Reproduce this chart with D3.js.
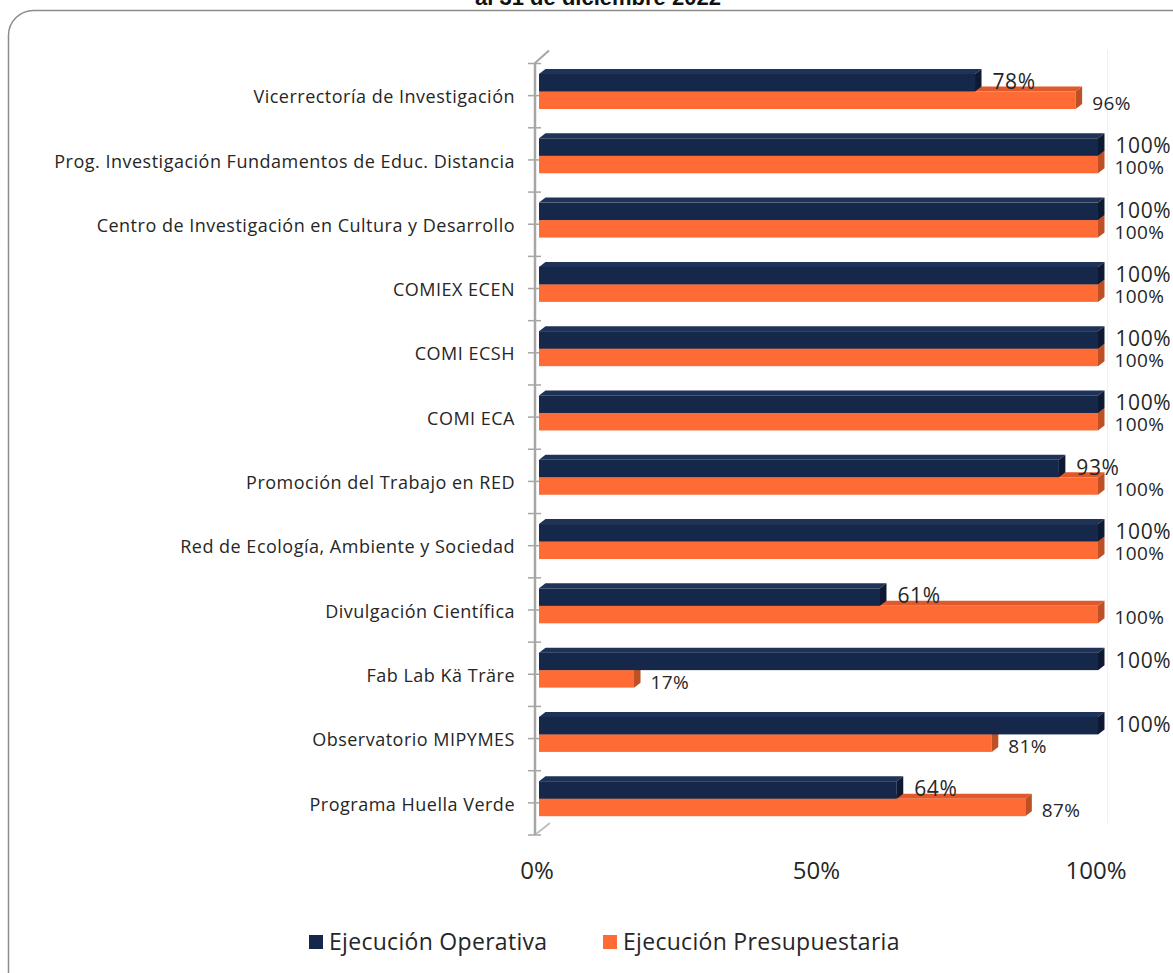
<!DOCTYPE html>
<html>
<head>
<meta charset="utf-8">
<script src="https://cdn.jsdelivr.net/npm/d3@7"></script>
<style>
  body { margin: 0; background: #fff; }
  svg { display: block; }
  .cat-label { font-family: 'Open Sans', sans-serif; font-size: 18px; letter-spacing: 0.5px; fill: #262626; }
  .tick-label { font-family: 'Open Sans', sans-serif; font-size: 24px; fill: #262626; }
  .val-op { font-family: 'Open Sans', sans-serif; font-size: 21px; letter-spacing: 0.6px; fill: #262626; }
  .val-pre { font-family: 'Open Sans', sans-serif; font-size: 19px; letter-spacing: 0.4px; fill: #262626; }
  .legend-label { font-family: 'Open Sans', sans-serif; font-size: 23px; letter-spacing: 0.3px; fill: #262626; }
</style>
</head>
<body>
<svg id="chart" width="1173" height="973"></svg>
<script>
// ================= data =========
var categories = [
  'Vicerrectoría de Investigación',
  'Prog. Investigación Fundamentos de Educ. Distancia',
  'Centro de Investigación en Cultura y Desarrollo',
  'COMIEX ECEN',
  'COMI ECSH',
  'COMI ECA',
  'Promoción del Trabajo en RED',
  'Red de Ecología, Ambiente y Sociedad',
  'Divulgación Científica',
  'Fab Lab Kä Träre',
  'Observatorio MIPYMES',
  'Programa Huella Verde'
]
var operativa = [78, 100, 100, 100, 100, 100, 93, 100, 61, 100, 100, 64]
var presupuestaria = [96, 100, 100, 100, 100, 100, 100, 100, 100, 17, 81, 87]
var seriesNames = ['Ejecución Operativa', 'Ejecución Presupuestaria']
var tickValues = [0, 50, 100]

var navy = { front: '#16284a', top: '#1f3257', side: '#0e1a33' }
var orange = { front: '#ff6b35', top: '#e0592a', side: '#bf4f25' }

var svg = d3.select('#chart')

// ======== frame and title ========
svg.append('rect')
  .attr('x', 8.5).attr('y', 10.5)
  .attr('width', 1190).attr('height', 990)
  .attr('rx', 25).attr('ry', 25)
  .attr('fill', 'none')
  .attr('stroke', '#8c8c8c')
  .attr('stroke-width', 1.5)

// title is cut by the top edge, like the original
svg.append('text')
  .attr('x', 598).attr('y', 5)
  .attr('text-anchor', 'middle')
  .style('font-family', 'Liberation Sans, Arial, sans-serif')
  .style('font-size', '22px')
  .style('font-weight', 'bold')
  .style('fill', '#111')
  .text('al 31 de diciembre 2022')

// ======== scales ========
var x = d3.scaleLinear().domain([0, 100]).range([539, 1098])
var y = d3.scaleBand().domain(categories).range([63.5, 835])
var depthX = 6.5
var depthY = 5

// faint back line at 100%
svg.append('line')
  .attr('x1', x(100) + depthX + 3).attr('x2', x(100) + depthX + 3)
  .attr('y1', 50).attr('y2', 823)
  .attr('stroke', '#f0f0f0')
  .attr('stroke-width', 1)

// ======== category axis (3d wall edge) ========
var axisX = 535
var yTop = y.range()[0]
var yBot = y.range()[1]
svg.append('line')
  .attr('x1', axisX).attr('x2', axisX)
  .attr('y1', yTop - 1).attr('y2', yBot)
  .attr('stroke', '#a6a6a6').attr('stroke-width', 2.5)
svg.append('line')
  .attr('x1', axisX).attr('y1', yTop - 0.5)
  .attr('x2', axisX + 14).attr('y2', yTop - 13)
  .attr('stroke', '#a6a6a6').attr('stroke-width', 2)
svg.append('line')
  .attr('x1', axisX + 1).attr('y1', yBot - 1)
  .attr('x2', axisX + 15).attr('y2', yBot - 12)
  .attr('stroke', '#bfbfbf').attr('stroke-width', 2)

// ticks at boundaries and at the middle of every band
var tickYs = []
categories.forEach(function (c) {
  tickYs.push(y(c))
  tickYs.push(y(c) + y.bandwidth() / 2)
})
tickYs.push(yBot)
svg.selectAll('.cat-tick')
  .data(tickYs)
  .enter()
  .append('line')
  .attr('class', 'cat-tick')
  .attr('x1', axisX - 7).attr('x2', axisX + 6)
  .attr('y1', function (d) { return d }).attr('y2', function (d) { return d })
  .attr('stroke', '#a6a6a6').attr('stroke-width', 1.5)

// category labels
svg.selectAll('.cat-label')
  .data(categories)
  .enter()
  .append('text')
  .attr('class', 'cat-label')
  .attr('x', 515)
  .attr('y', function (d) { return y(d) + 33.5 })
  .attr('text-anchor', 'end')
  .attr('dy', '0.35em')
  .text(function (d) { return d })

// ======== 3d bars ========
function bar3d (g, x0, x1, yFront, h, col) {
  // top face
  g.append('path')
    .attr('d', 'M' + x0 + ',' + yFront + 'L' + (x0 + depthX) + ',' + (yFront - depthY) +
      'L' + (x1 + depthX) + ',' + (yFront - depthY) + 'L' + x1 + ',' + yFront + 'Z')
    .attr('fill', col.top)
  // front face
  g.append('rect')
    .attr('x', x0).attr('y', yFront)
    .attr('width', x1 - x0).attr('height', h)
    .attr('fill', col.front)
  // side face
  g.append('path')
    .attr('d', 'M' + x1 + ',' + yFront + 'L' + (x1 + depthX) + ',' + (yFront - depthY) +
      'L' + (x1 + depthX) + ',' + (yFront + h - depthY) + 'L' + x1 + ',' + (yFront + h) + 'Z')
    .attr('fill', col.side)
}

var barH = 17.5
var bars = svg.append('g')
categories.forEach(function (c, i) {
  var top = y(c) + 10.5
  // orange goes first so the navy one sits over its top face
  bar3d(bars, x(0), x(presupuestaria[i]), top + barH, barH, orange)
  bar3d(bars, x(0), x(operativa[i]), top, barH, navy)
})

// ======== data labels ========
svg.selectAll('.val-op')
  .data(operativa)
  .enter()
  .append('text')
  .attr('class', 'val-op')
  .attr('x', function (d) { return x(d) + depthX + 11 })
  .attr('y', function (d, i) { return y(categories[i]) + 10.5 + barH - 2.5 })
  .text(function (d) { return d + '%' })

svg.selectAll('.val-pre')
  .data(presupuestaria)
  .enter()
  .append('text')
  .attr('class', 'val-pre')
  .attr('x', function (d) { return x(d) + depthX + 10 })
  .attr('y', function (d, i) { return y(categories[i]) + 10.5 + 2 * barH + 1 })
  .text(function (d) { return d + '%' })

// ======== value axis labels ========
svg.selectAll('.tick-label')
  .data(tickValues)
  .enter()
  .append('text')
  .attr('class', 'tick-label')
  .attr('x', function (d) { return x(d) - 2 })
  .attr('y', 879)
  .attr('text-anchor', 'middle')
  .text(function (d) { return d + '%' })

// ======== legend ========
var legendX = [309, 603]
var legend = svg.selectAll('.legend')
  .data(seriesNames)
  .enter()
  .append('g')
  .attr('class', 'legend')
  .attr('transform', function (d, i) { return 'translate(' + legendX[i] + ',935)' })
legend.append('rect')
  .attr('width', 14).attr('height', 14)
  .attr('fill', function (d, i) { return i === 0 ? navy.front : orange.front })
legend.append('text')
  .attr('class', 'legend-label')
  .attr('x', 20)
  .attr('y', 15)
  .text(function (d) { return d })
</script>
</body>
</html>
